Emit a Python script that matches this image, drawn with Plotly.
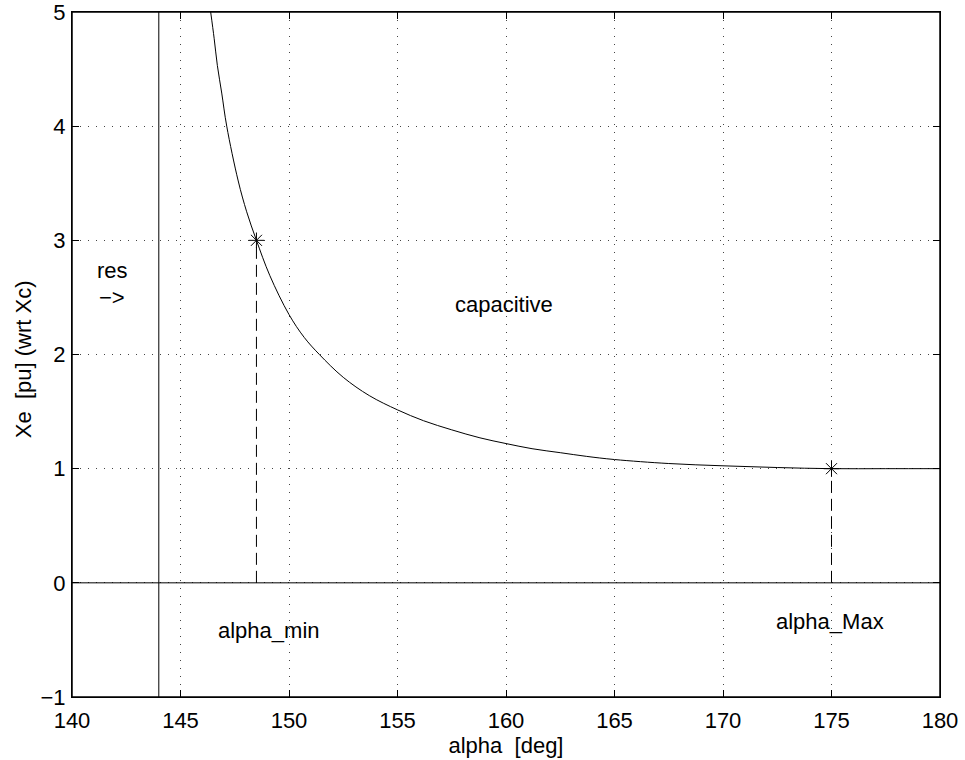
import plotly.graph_objects as go

# Curve data
alpha = [146.39, 146.55, 146.70, 146.90, 147.13, 147.66, 148.05, 148.5,
         149.12, 150.0, 150.7, 151.4, 152.5, 153.7, 155.0, 156.2, 157.5, 158.8,
         160.0, 161.2, 162.5, 163.7, 165.0, 167.5, 170.0, 172.5, 175.0, 177.5, 180.0]
xe = [5.0, 4.77, 4.53, 4.29, 4.0, 3.52, 3.25, 3.0,
      2.69, 2.35, 2.15, 2.0, 1.80, 1.64, 1.515, 1.42, 1.34, 1.27,
      1.22, 1.175, 1.14, 1.108, 1.08, 1.045, 1.025, 1.01, 1.0, 1.0, 1.0]

# Marked operating limits
alpha_limits = [148.5, 175.0]
xe_limits = [3.0, 1.0]

# Resonance line and axis ranges
alpha_res = 144.0
x_range = [140, 180]
y_range = [-1, 5]

x_ticks = [140, 145, 150, 155, 160, 165, 170, 175, 180]
y_ticks = [-1, 0, 1, 2, 3, 4, 5]
y_tick_text = ["−1", "0", "1", "2", "3", "4", "5"]

FONT = "Liberation Sans, Arial, Helvetica, sans-serif"
FS = 22

fig = go.Figure()

# zero line
fig.add_trace(go.Scatter(x=x_range, y=[0, 0], mode="lines",
                         line=dict(color="black", width=1), hoverinfo="skip"))
# resonance line
fig.add_trace(go.Scatter(x=[alpha_res, alpha_res], y=y_range, mode="lines",
                         line=dict(color="black", width=1), hoverinfo="skip"))
# dashed drop lines
for a, v in zip(alpha_limits, xe_limits):
    fig.add_trace(go.Scatter(x=[a, a], y=[0, v], mode="lines",
                             line=dict(color="black", width=1, dash="12px,6px"),
                             hoverinfo="skip"))
# curve
fig.add_trace(go.Scatter(x=alpha, y=xe, mode="lines",
                         line=dict(color="black", width=1, shape="spline", smoothing=1.0)))
# markers
fig.add_trace(go.Scatter(x=alpha_limits, y=xe_limits, mode="markers",
                         marker=dict(symbol="asterisk-open", size=13,
                                     line=dict(color="black", width=1), color="black")))

annotations = [
    dict(x=141.85, y=2.74, text="res"),
    dict(x=141.85, y=2.50, text="−>"),
    dict(x=159.9, y=2.44, text="capacitive"),
    dict(x=149.1, y=-0.42, text="alpha_min"),
    dict(x=174.93, y=-0.34, text="alpha_Max"),
]
for a in annotations:
    fig.add_annotation(x=a["x"], y=a["y"], text=a["text"], showarrow=False,
                       font=dict(family=FONT, size=FS, color="black"),
                       xanchor="center", yanchor="middle")

# y-axis title as a rotated annotation for precise placement
fig.add_annotation(x=-0.0565, y=0.493, xref="paper", yref="paper",
                   text="Xe  [pu] (wrt Xc)", textangle=-90, showarrow=False,
                   font=dict(family=FONT, size=FS, color="black"),
                   xanchor="center", yanchor="middle")

# plot frame (top edge drawn with a small stroke to stay visible)
fig.add_shape(type="rect", xref="paper", yref="paper", x0=0, y0=0, x1=1, y1=1,
              line=dict(color="black", width=1.5), layer="above")

axis_common = dict(
    showline=True, linecolor="black", linewidth=1, mirror="allticks",
    ticks="inside", ticklen=7, tickcolor="black", tickwidth=1,
    showgrid=True, gridcolor="#444", gridwidth=1, griddash="1px,7px",
    zeroline=False, tickfont=dict(family=FONT, size=FS, color="black"),
    automargin=False, ticklabeloverflow="allow",
)

fig.update_xaxes(range=x_range, tickvals=x_ticks, ticklabelstandoff=4, **axis_common,
                 title=dict(text="alpha  [deg]", font=dict(family=FONT, size=FS, color="black"),
                            standoff=0))
fig.update_yaxes(range=y_range, tickvals=y_ticks, ticktext=y_tick_text,
                 ticklabelstandoff=1, **axis_common)

fig.update_layout(
    width=965, height=760, showlegend=False,
    plot_bgcolor="white", paper_bgcolor="white",
    margin=dict(l=72, r=25, t=12, b=63),
    font=dict(family=FONT, color="black"),
)

fig.write_html("out.html", config={"displayModeBar": False},
               post_script="document.body.style.margin='0';document.body.style.overflow='hidden';")
